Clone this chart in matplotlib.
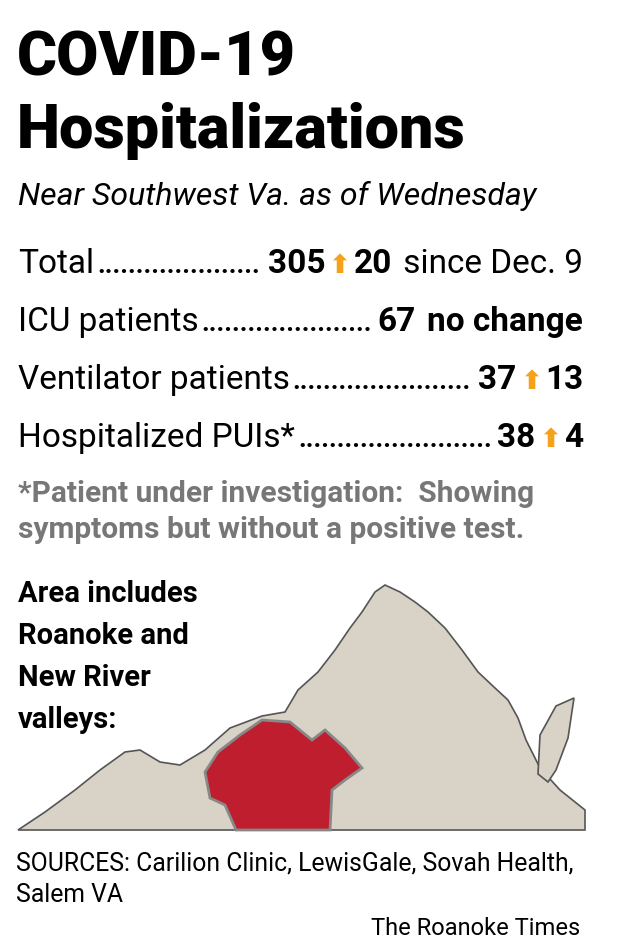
import matplotlib
matplotlib.use("Agg")
import matplotlib.pyplot as plt
from matplotlib.patches import Polygon

W, H = 619, 948
title_lines = ["COVID-19", "Hospitalizations"]
subtitle = "Near Southwest Va. as of Wednesday"
labels = ["Total", "ICU patients", "Ventilator patients", "Hospitalized PUIs*"]
values = ["305", "67", "37", "38"]
changes = ["20", "no change", "13", "4"]
change_up = [True, False, True, True]
change_suffix = [" since Dec. 9", "", "", ""]
footnote = ["*Patient under investigation:  Showing", "symptoms but without a positive test."]
area_text = ["Area includes", "Roanoke and", "New River", "valleys:"]
sources = ["SOURCES: Carilion Clinic, LewisGale, Sovah Health,", "Salem VA"]
credit = "The Roanoke Times"

# rough state outlines (pixel space)
va_outline = [(18,830),(45,812),(75,790),(100,770),(125,752),(140,750),(160,762),(180,765),
              (205,750),(230,728),(262,716),(285,712),(298,690),(318,672),(335,650),(350,628),
              (362,612),(375,592),(385,585),(400,592),(415,602),(428,612),(445,628),(462,650),
              (478,672),(495,688),(508,700),(518,718),(526,740),(540,768),(560,790),(585,810),(585,830)]
eastern_shore = [(540,735),(556,706),(574,698),(568,738),(556,770),(548,782),(538,774)]
region = [(205,772),(218,752),(240,735),(262,720),(290,722),(312,740),(325,730),(345,748),
          (362,768),(345,780),(332,790),(330,830),(236,830),(225,805),(210,798)]

fig = plt.figure(figsize=(W/100, H/100), dpi=100)
ax = fig.add_axes([0, 0, 1, 1])
ax.set_xlim(0, W); ax.set_ylim(H, 0); ax.axis("off")

BF = "Roboto"
for i, t in enumerate(title_lines):
    ax.text(17, 75 + i*73, t, fontsize=44, fontweight="black", family=BF, va="baseline")
ax.text(18, 205, subtitle, fontsize=23, style="italic", family=BF, va="baseline")

fig.canvas.draw()
r = fig.canvas.get_renderer()
def width(t):
    return t.get_window_extent(renderer=r).width

ORANGE = "#f5a21b"
rows_y = [273, 331, 389, 447]
fs = 24
for i in range(4):
    y = rows_y[i]
    x = 583
    parts = []
    if change_suffix[i]:
        parts.append((change_suffix[i], "normal", "black"))
    parts.append((changes[i], "bold", "black"))
    if change_up[i]:
        parts.append(("\u2B06", "bold", ORANGE))
    else:
        parts.append((" ", "normal", "black"))
    parts.append((values[i], "bold", "black"))
    for s, w, c in parts:
        fam = "DejaVu Sans" if s == "\u2B06" else BF
        t = ax.text(x, y, s, fontsize=fs if fam == BF else 19, fontweight=w, color=c,
                    family=fam, ha="right", va="baseline")
        fig.canvas.draw()
        x -= width(t) + (3 if s != " " else 0)
    lab = ax.text(18, y, labels[i], fontsize=fs, family=BF, va="baseline")
    fig.canvas.draw()
    x0 = 18 + width(lab) + 3
    n = 60
    while n > 0:
        d = ax.text(x0, y, "." * n, fontsize=fs*0.8, fontweight="bold", family=BF, va="baseline")
        fig.canvas.draw()
        if x0 + width(d) <= x + 2:
            break
        d.remove(); n -= 1

for i, t in enumerate(footnote):
    ax.text(18, 502 + i*36, t, fontsize=21.5, fontweight="bold", color="#777777", family=BF, va="baseline")
for i, t in enumerate(area_text):
    ax.text(18, 602 + i*42, t, fontsize=21, fontweight="bold", family=BF, va="baseline")

ax.add_patch(Polygon(va_outline, closed=True, fc="#d9d3c7", ec="#555555", lw=1.2))
ax.add_patch(Polygon(eastern_shore, closed=True, fc="#d9d3c7", ec="#555555", lw=1.2))
ax.add_patch(Polygon(region, closed=True, fc="#bf1e2e", ec="#888888", lw=2))

for i, t in enumerate(sources):
    ax.text(16, 870 + i*32, t, fontsize=17.8, family=BF, va="baseline")
ax.text(580, 935, credit, fontsize=17, family=BF, ha="right", va="baseline")

fig.savefig("out.png", dpi=100)
